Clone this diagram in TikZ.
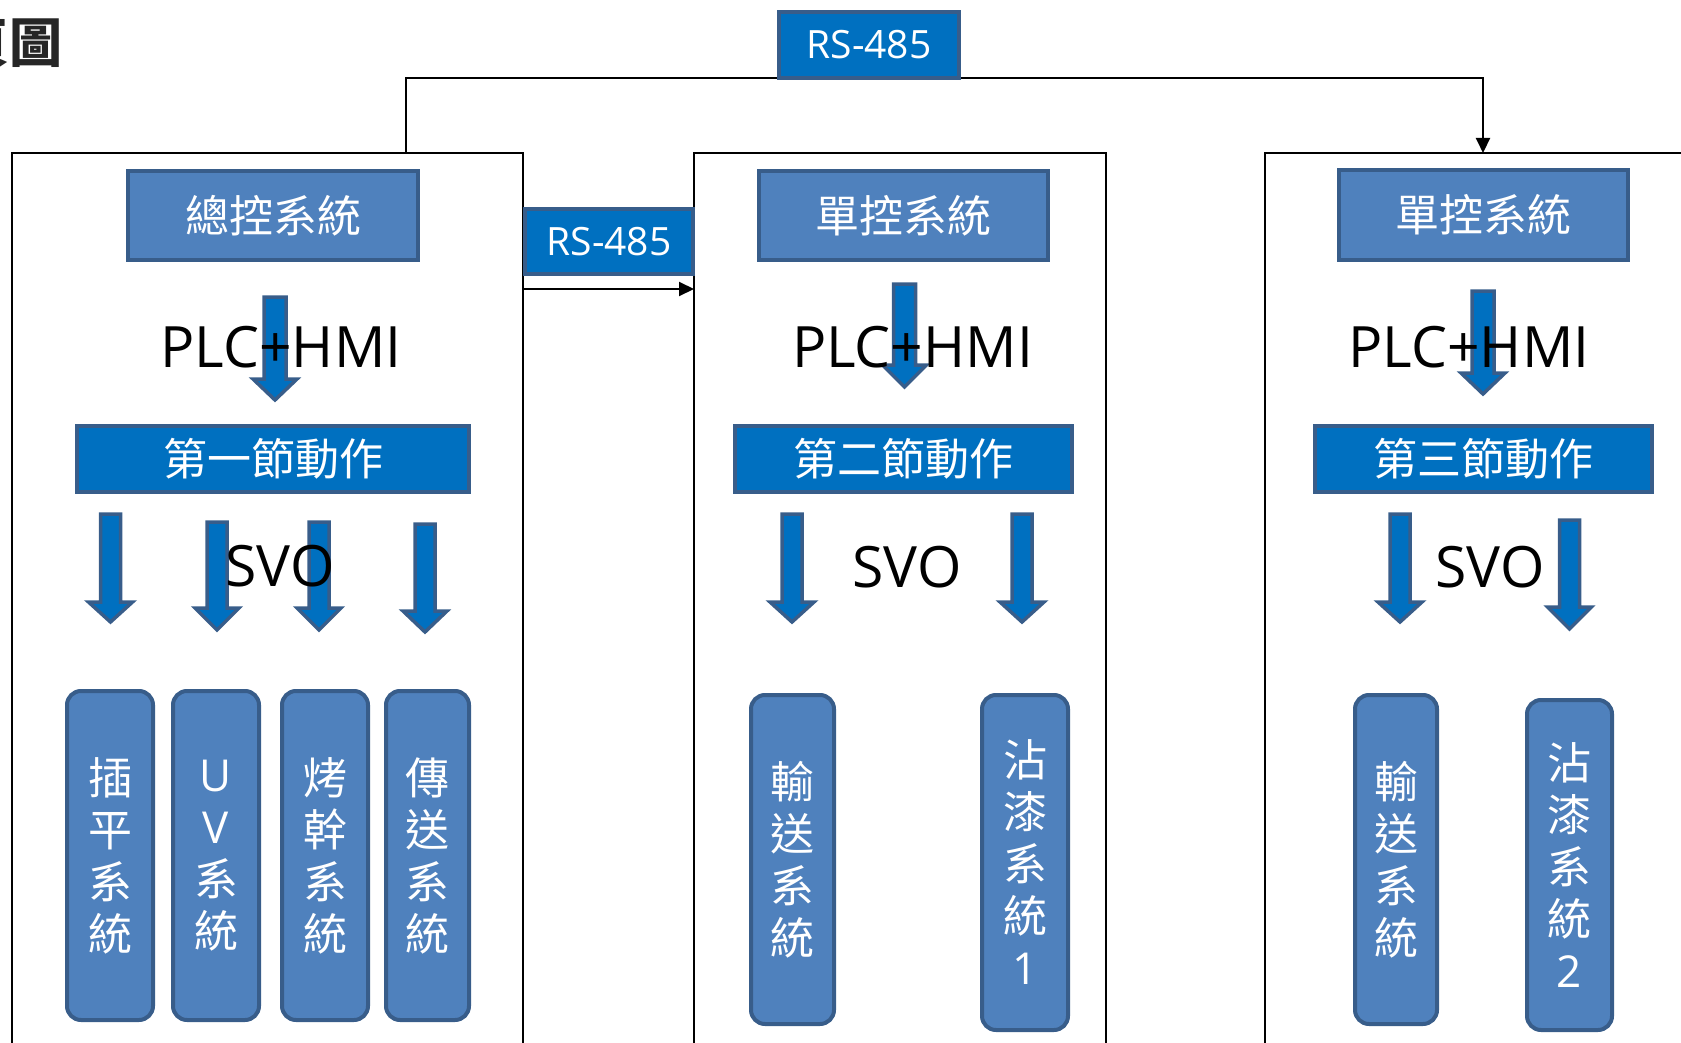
\documentclass[tikz,border=0pt]{standalone}
\usepackage{fontspec}
\setmainfont{Open Sans}
\newfontfamily\cjk{Noto Sans CJK TC}
\usetikzlibrary{arrows.meta}
\definecolor{lblue}{HTML}{4F81BD}
\definecolor{lbord}{HTML}{385D8A}
\definecolor{dblue}{HTML}{0070C0}
\definecolor{titlegray}{HTML}{262626}
% block arrow: cx, top, base, tip, shaft half width, head half width
\newcommand\blockarr[6]{%
  \draw[blockarrow] ({#1-#5},{#2}) -- ({#1+#5},{#2}) -- ({#1+#5},{#3}) -- ({#1+#6},{#3}) -- ({#1},{#4}) -- ({#1-#6},{#3}) -- ({#1-#5},{#3}) -- cycle;}
\begin{document}
\begin{tikzpicture}[x=1pt,y=-1pt,
  frame/.style={line width=1.3pt},
  link/.style={line width=2pt,-{Triangle[length=15pt,width=14pt]}},
  lbox/.style={draw=lbord,fill=lblue,line width=4pt,text=white,inner sep=0pt,
    font={\cjk\fontsize{44}{52}\selectfont}},
  dbox/.style={draw=lbord,fill=dblue,line width=4pt,text=white,inner sep=0pt,
    font={\cjk\fontsize{44}{52}\selectfont}},
  rsbox/.style={dbox,font={\fontsize{39}{44}\selectfont}},
  tallbox/.style={lbox,rounded corners=14pt,align=center},
  biglabel/.style={font={\fontsize{57}{60}\selectfont},inner sep=0pt,anchor=base,text=black},
  blockarrow/.style={draw=lbord,fill=dblue,line width=3.5pt,line join=miter}]
\useasboundingbox (0,0) rectangle (1681,1043);

% title fragment (cut off at the left edge, as in the reference)
\node[font={\cjk\bfseries\fontsize{53}{58}\selectfont},text=titlegray,anchor=east,inner sep=0pt] (title) at (63,43) {頁圖};

% frames
\draw[frame] (12,1050) -- (12,153) -- (523,153) -- (523,1050);
\draw[frame] (694,1050) -- (694,153) -- (1106,153) -- (1106,1050);
\draw[frame] (1265,1050) -- (1265,153) -- (1700,153);
\coordinate (f1top) at (406,153);
\coordinate (f3top) at (1483,153);
\coordinate (f1r) at (523,289);
\coordinate (f2l) at (694,289);

% RS-485 top
\node[rsbox,minimum width=180pt,minimum height=66pt] (rsA) at (869,45) {};
\draw[link] (f1top) |- ([yshift=2pt]rsA.south) -| (f3top);
\node[rsbox,minimum width=180pt,minimum height=66pt] (rsA) at (869,45) {RS-485};
% RS-485 middle
\draw[link] (f1r) -- (f2l);
\node[rsbox,minimum width=168pt,minimum height=65pt] (rsB) at (609,241.5) {RS-485};

% control boxes
\node[lbox,minimum width=290pt,minimum height=89pt] (t1) at (273,215.5) {總控系統};
\node[lbox,minimum width=289pt,minimum height=89pt] (t2) at (903.5,215.5) {單控系統};
\node[lbox,minimum width=289pt,minimum height=90pt] (t3) at (1483.5,215) {單控系統};

% big arrows
\blockarr{275}{297}{379}{400}{11}{22}
\blockarr{904.5}{284}{365}{387}{11}{22}
\blockarr{1483}{291}{373}{394}{11}{22}

% PLC+HMI
\node[biglabel] (p1) at (281,367) {PLC+HMI};
\node[biglabel] (p2) at (912.5,367) {PLC+HMI};
\node[biglabel] (p3) at (1469,367) {PLC+HMI};

% section boxes
\node[dbox,minimum width=392pt,minimum height=66pt] (s1) at (273,459) {第一節動作};
\node[dbox,minimum width=337pt,minimum height=66pt] (s2) at (903.5,459) {第二節動作};
\node[dbox,minimum width=337pt,minimum height=66pt] (s3) at (1483.5,459) {第三節動作};

% small arrows
\blockarr{110.5}{514}{602}{622}{10}{22}
\blockarr{217}{522}{608}{630}{10}{22}
\blockarr{319}{522}{608}{630}{10}{22}
\blockarr{425}{524}{611}{632}{10}{22}
\blockarr{792}{514}{602}{622}{10}{22}
\blockarr{1022}{514}{602}{622}{10}{22}
\blockarr{1400}{514}{602}{622}{10}{22}
\blockarr{1569.5}{520}{607}{629}{10}{22}

% SVO
\node[biglabel] (v1) at (280,586) {SVO};
\node[biglabel] (v2) at (907,587) {SVO};
\node[biglabel] (v3) at (1490,587) {SVO};

% tall boxes
\node[tallbox,minimum width=86pt,minimum height=329pt] (d1) at (110,855.5) {插\\平\\系\\統};
\node[tallbox,minimum width=86pt,minimum height=329pt] (d2) at (216,855.5) {{\rmfamily U}\\{\rmfamily V}\\系\\統};
\node[tallbox,minimum width=86pt,minimum height=329pt] (d3) at (325,855.5) {烤\\幹\\系\\統};
\node[tallbox,minimum width=83pt,minimum height=329pt] (d4) at (427.5,855.5) {傳\\送\\系\\統};
\node[tallbox,minimum width=83pt,minimum height=329pt] (e1) at (792.5,859.5) {輸\\送\\系\\統};
\node[tallbox,minimum width=86pt,minimum height=335pt] (e2) at (1025,862.5) {沾\\漆\\系\\統\\{\rmfamily 1}};
\node[tallbox,minimum width=82pt,minimum height=329pt] (f1) at (1396,859.5) {輸\\送\\系\\統};
\node[tallbox,minimum width=85pt,minimum height=330pt] (f2) at (1569.5,865) {沾\\漆\\系\\統\\{\rmfamily 2}};
\end{tikzpicture}
\end{document}
